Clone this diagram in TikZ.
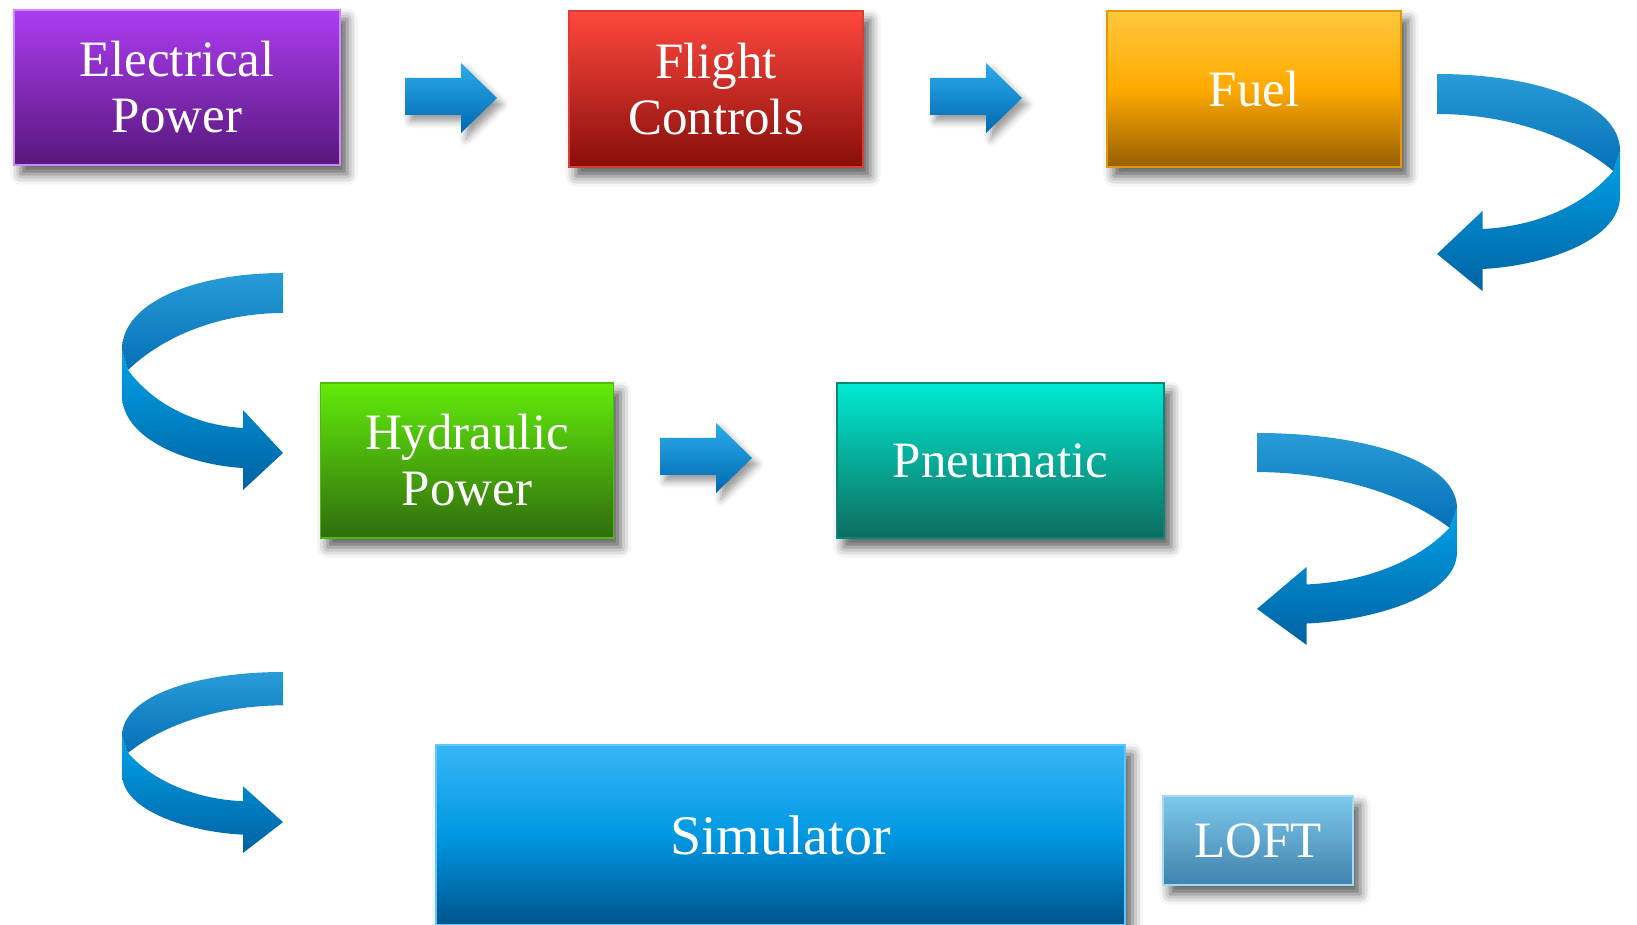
\documentclass[tikz,border=0pt]{standalone}
\usepackage{fontspec}
\setmainfont{Liberation Serif}
\usetikzlibrary{shadows.blur}
\definecolor{cElecTop}{RGB}{172,60,242}
\definecolor{cElecBot}{RGB}{88,24,124}
\definecolor{cFlightTop}{RGB}{255,72,62}
\definecolor{cFlightBot}{RGB}{136,14,10}
\definecolor{cFuelTop}{RGB}{255,200,62}
\definecolor{cFuelMid}{RGB}{255,170,0}
\definecolor{cFuelBot}{RGB}{150,95,0}
\definecolor{cHydTop}{RGB}{98,236,10}
\definecolor{cHydBot}{RGB}{48,108,14}
\definecolor{cPneuTop}{RGB}{0,234,210}
\definecolor{cPneuBot}{RGB}{14,108,94}
\definecolor{cSimTop}{RGB}{56,182,246}
\definecolor{cSimMid}{RGB}{0,152,226}
\definecolor{cSimBot}{RGB}{0,84,140}
\definecolor{cLoftTop}{RGB}{126,200,236}
\definecolor{cLoftBot}{RGB}{64,130,172}
\definecolor{cArrowTop}{RGB}{44,172,236}
\definecolor{cArrowBot}{RGB}{0,104,176}
\definecolor{cBandTop}{RGB}{40,156,216}
\definecolor{cBandMid}{RGB}{0,162,232}
\definecolor{cBandBot}{RGB}{0,98,162}
\tikzset{
	sysbox/.style ={rectangle, inner sep=0pt, align=center, text=white, line width=0.5pt,
		font=\fontsize{14.5}{15.9}\selectfont,
		blur shadow={shadow xshift=2pt, shadow yshift=-2.6pt, shadow blur radius=3pt, shadow opacity=65}},
	arrowfill/.style={top color=cArrowTop, bottom color=cArrowBot,
		blur shadow={shadow xshift=1.4pt, shadow yshift=-1.8pt, shadow blur radius=2pt, shadow opacity=40}},
	bandup/.style   ={top color=cBandTop, bottom color=cArrowBot!85!cBandTop},
	banddown/.style ={top color=cBandMid, bottom color=cBandBot},
	% straight block arrow, origin at its top left corner
	fwdarrow/.pic={
		\path[arrowfill] (0,15) -- (56,15) -- (56,0) -- (92,35) -- (56,70) -- (56,52) -- (0,52) -- cycle;
	},
	% turning ribbon arrow, origin at the outer edge of its tail
	turnarrow/.pic={
		\path[banddown] (-161,77) -- (-161,122) .. controls (-161,167) and (-93,192) .. (-40,195)
			-- (-40,217) -- (0,180) -- (-40,137) -- (-40,155)
			.. controls (-93,152) and (-133,127) .. (-155,97) -- cycle;
		\path[bandup] (0,0) .. controls (-83,0) and (-161,27) .. (-161,77) -- (-155,97)
			.. controls (-113,57) and (-53,40) .. (0,40) -- cycle;
	},
}

\begin{document}
\begin{tikzpicture}[x=0.01cm, y=-0.01cm]
	\useasboundingbox (0,0) rectangle (1637,925);
	% systems
	\node[sysbox, minimum width=3.26cm, minimum height=1.55cm, top color=cElecTop, bottom color=cElecBot, draw=cElecTop!60!white] (elec) at (177,87.5) {Electrical\\Power};
	\node[sysbox, minimum width=2.94cm, minimum height=1.56cm, top color=cFlightTop, bottom color=cFlightBot, draw=cFlightTop!85!black] (flight) at (716,89) {Flight\\Controls};
	\node[sysbox, minimum width=2.94cm, minimum height=1.56cm, top color=cFuelTop, bottom color=cFuelBot, middle color=cFuelMid, draw=cFuelMid!90!black] (fuel) at (1254,89) {Fuel};
	\node[sysbox, minimum width=2.93cm, minimum height=1.55cm, top color=cHydTop, bottom color=cHydBot, draw=cHydTop!80!black] (hyd) at (467,460.5) {Hydraulic\\Power};
	\node[sysbox, minimum width=3.27cm, minimum height=1.55cm, top color=cPneuTop, bottom color=cPneuBot, draw=cPneuBot!80!cPneuTop] (pneu) at (1000.5,460.5) {Pneumatic};
	\node[sysbox, minimum width=6.89cm, minimum height=1.80cm, top color=cSimTop, bottom color=cSimBot, middle color=cSimMid, draw=cSimTop!80!white, font=\fontsize{15.9}{17}\selectfont] (sim) at (780.5,835) {Simulator};
	\node[sysbox, minimum width=1.90cm, minimum height=0.89cm, top color=cLoftTop, bottom color=cLoftBot, draw=cLoftTop!70!white] (loft) at (1258,840.5) {LOFT};
	% flow arrows
	\pic at (405,63) {fwdarrow};
	\pic at (930,63) {fwdarrow};
	\pic at (660,423) {fwdarrow};
	\pic[xscale=-1.137] at (1437,74) {turnarrow};
	\pic at (283,273) {turnarrow};
	\pic[xscale=-1.242, yscale=0.977] at (1257,433) {turnarrow};
	\pic[yscale=0.834] at (283,672) {turnarrow};
\end{tikzpicture}
\end{document}
